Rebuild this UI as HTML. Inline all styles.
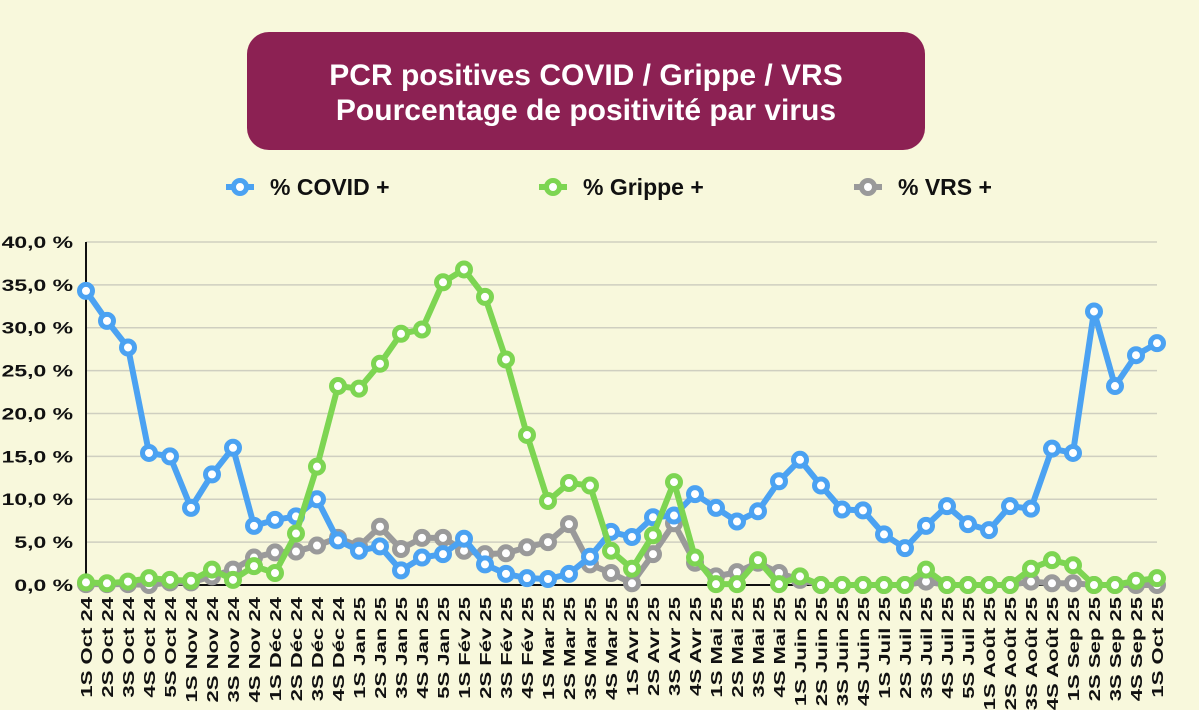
<!DOCTYPE html>
<html><head><meta charset="utf-8"><style>
body{margin:0;background:#f8f8dc;}
svg{display:block;font-family:"Liberation Sans",sans-serif;font-weight:bold;}
</style></head><body>
<svg id="c" width="1199" height="710">
<rect width="1199" height="710" fill="#f8f8dc"/>
<rect x="247" y="32" width="678" height="118" rx="22" fill="#8c2153"/>
<text x="586" y="85" text-anchor="middle" fill="#fff" font-size="30">PCR positives COVID / Grippe / VRS</text>
<text x="586" y="120" text-anchor="middle" fill="#fff" font-size="30">Pourcentage de positivité par virus</text>
<g id="legend"></g>
<g id="grid"></g>
<g id="plot"></g>
<g id="xl"></g>
</svg>
<script>
const categories=["1S Oct 24","2S Oct 24","3S Oct 24","4S Oct 24","5S Oct 24","1S Nov 24","2S Nov 24","3S Nov 24","4S Nov 24","1S Déc 24","2S Déc 24","3S Déc 24","4S Déc 24","1S Jan 25","2S Jan 25","3S Jan 25","4S Jan 25","5S Jan 25","1S Fév 25","2S Fév 25","3S Fév 25","4S Fév 25","1S Mar 25","2S Mar 25","3S Mar 25","4S Mar 25","1S Avr 25","2S Avr 25","3S Avr 25","4S Avr 25","1S Mai 25","2S Mai 25","3S Mai 25","4S Mai 25","1S Juin 25","2S Juin 25","3S Juin 25","4S Juin 25","1S Juil 25","2S Juil 25","3S Juil 25","4S Juil 25","5S Juil 25","1S Août 25","2S Août 25","3S Août 25","4S Août 25","1S Sep 25","2S Sep 25","3S Sep 25","4S Sep 25","1S Oct 25"];
const covid=[34.3,30.8,27.7,15.4,15.0,9.0,12.9,16.0,6.9,7.6,8.0,10.0,5.2,4.0,4.5,1.7,3.2,3.6,5.4,2.4,1.3,0.8,0.7,1.3,3.3,6.2,5.6,7.9,8.1,10.6,9.0,7.4,8.6,12.1,14.6,11.6,8.8,8.7,5.9,4.3,6.9,9.2,7.1,6.4,9.2,8.9,15.9,15.4,31.9,23.2,26.8,28.2];
const grippe=[0.3,0.2,0.4,0.8,0.6,0.5,1.8,0.6,2.2,1.4,6.0,13.8,23.2,22.9,25.8,29.3,29.8,35.3,36.8,33.6,26.3,17.5,9.8,11.9,11.6,4.0,1.9,5.8,12.0,3.2,0.1,0.1,2.9,0.1,1.0,0,0,0,0,0,1.8,0,0,0,0,1.9,2.9,2.3,0,0,0.5,0.8];
const vrs=[0.1,0.1,0.1,0,0.3,0.3,1.0,1.8,3.2,3.8,3.9,4.6,5.5,4.5,6.8,4.2,5.5,5.5,4.0,3.6,3.7,4.4,5.0,7.1,2.4,1.4,0.2,3.6,7.2,2.6,1.0,1.5,2.6,1.4,0.6,0,0,0,0,0,0.4,0,0,0,0,0.4,0.2,0.2,0,0,0,0];
const yTicks=[0,5,10,15,20,25,30,35,40];
const yTickLabels=["0,0 %","5,0 %","10,0 %","15,0 %","20,0 %","25,0 %","30,0 %","35,0 %","40,0 %"];
const NS="http://www.w3.org/2000/svg";
const X0=86,X1=1157,Y0=585,Y1=242;
const xs=i=>X0+(X1-X0)*i/(categories.length-1);
const ys=v=>Y0-(Y0-Y1)*v/40;
function mk(tag,attrs,parent){const e=document.createElementNS(NS,tag);for(const k in attrs)e.setAttribute(k,attrs[k]);parent.appendChild(e);return e;}
const grid=document.getElementById('grid');
yTicks.forEach((t,i)=>{
 if(t>0){const l=mk('line',{x1:X0,x2:X1,y1:ys(t),y2:ys(t),stroke:'#cfcfc0','stroke-width':1.5},grid);
 
 }
 const tx=mk('text',{x:73,y:ys(t)+6,'text-anchor':'end','font-size':17,fill:'#111',transform:`translate(73,0) scale(1.35,1) translate(-73,0)`},grid);
 tx.textContent=yTickLabels[i];
 
 
});
const ax=mk('line',{x1:X0,x2:X0,y1:Y1,y2:Y0,stroke:'#111','stroke-width':2},grid);


const bx=mk('line',{x1:X0,x2:X1,y1:Y0,y2:Y0,stroke:'#111','stroke-width':2},grid);


const xl=document.getElementById('xl');
categories.forEach((c,i)=>{
 const t=mk('text',{transform:`translate(${xs(i)+6},597) rotate(-90) scale(1.38,1)`,'text-anchor':'end','font-size':16,fill:'#111'},xl);
 t.textContent=c;
 
 
});
const plot=document.getElementById('plot');
function series(vals,color,name){
 const g=mk('g',{},plot);
 
 
 const p=mk('polyline',{points:vals.map((v,i)=>xs(i)+','+ys(v)).join(' '),fill:'none',stroke:color,'stroke-width':6,'stroke-linejoin':'round'},g);
 
 
 vals.forEach((v,i)=>{
  const c=mk('circle',{cx:xs(i),cy:ys(v),r:6.5,fill:'#fff',stroke:color,'stroke-width':5},g);
  
  
 });
}
series(vrs,'#9a9a9a','vrs');
series(covid,'#4ba2f2','covid');
series(grippe,'#7dd552','grippe');
const leg=document.getElementById('legend');
[["% COVID +",'#4ba2f2',240],["% Grippe +",'#7dd552',553],["% VRS +",'#9a9a9a',868]].forEach(([n,c,x])=>{
 const l=mk('line',{x1:x-14,x2:x+14,y1:187,y2:187,stroke:c,'stroke-width':6},leg);
 
 
 const ci=mk('circle',{cx:x,cy:187,r:6.5,fill:'#fff',stroke:c,'stroke-width':5},leg);
 
 
 const t=mk('text',{x:x+30,y:195,'font-size':23,fill:'#111'},leg);
 t.textContent=n;
 
 
});
</script>
</body></html>
